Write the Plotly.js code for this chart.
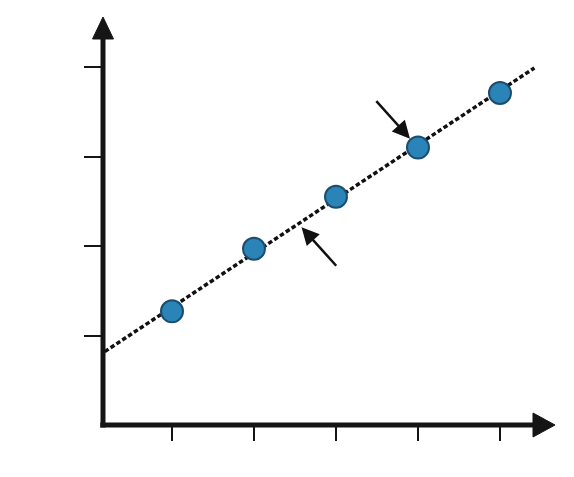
<!DOCTYPE html>
<html>
<head>
<meta charset="utf-8">
<script src="https://cdn.plot.ly/plotly-3.0.1.min.js"></script>
<style>html,body{margin:0;padding:0;background:#fff;}#chart{width:574px;height:477px;}</style>
</head>
<body>
<div id="chart"></div>
<script>
// Data
const pointX = [1, 2, 3, 4, 5];
const pointY = [1.27, 1.97, 2.55, 3.10, 3.71];
const trendX = [0.18, 5.42];
const trendY = [0.82, 3.99];
const xTicks = [1, 2, 3, 4, 5];
const yTicks = [1, 2, 3, 4];
const arrowTipX = [4, 2.58];
const arrowTipY = [3.10, 2.21];
const arrowTailDX = [-43, 36];
const arrowTailDY = [-48, 40];
const arrowStandoff = [12, 0];

const traces = [
  {
    x: trendX, y: trendY, mode: 'lines', type: 'scatter',
    line: {color: '#111', width: 3.5, dash: '4.5px,2.5px'},
    hoverinfo: 'skip', showlegend: false
  },
  {
    x: pointX, y: pointY, mode: 'markers', type: 'scatter',
    marker: {size: 22, color: '#2a84b8', line: {color: '#1b4d6e', width: 2}},
    showlegend: false
  }
];

const annotations = arrowTipX.map((x, i) => ({
  x: x, y: arrowTipY[i], xref: 'x', yref: 'y',
  ax: arrowTailDX[i], ay: arrowTailDY[i],
  showarrow: true, arrowhead: 2, arrowsize: 1.4, arrowwidth: 2.5,
  arrowcolor: '#111', standoff: arrowStandoff[i], text: ''
}));

const shapes = [
  {type: 'line', xref: 'paper', yref: 'paper', x0: 0, x1: 0, y0: -0.006, y1: 0.97,
   line: {color: '#151515', width: 5}},
  {type: 'line', xref: 'paper', yref: 'paper', x0: -0.006, x1: 0.97, y0: 0, y1: 0,
   line: {color: '#151515', width: 5}},
  {type: 'path', xref: 'paper', yref: 'paper', xsizemode: 'pixel', ysizemode: 'pixel',
   xanchor: 0, yanchor: 1, path: 'M0,0 L-10.5,-22 L10.5,-22 Z',
   fillcolor: '#151515', line: {color: '#151515', width: 1}},
  {type: 'path', xref: 'paper', yref: 'paper', xsizemode: 'pixel', ysizemode: 'pixel',
   xanchor: 1, yanchor: 0, path: 'M0,0 L-22,12 L-22,-12 Z',
   fillcolor: '#151515', line: {color: '#151515', width: 1}}
];

const layout = {
  width: 574, height: 477,
  margin: {l: 103, r: 19, t: 17, b: 52, pad: 0},
  paper_bgcolor: '#fff', plot_bgcolor: '#fff',
  xaxis: {
    range: [0.1585, 5.671], showgrid: false, zeroline: false, showline: false,
    tickmode: 'array', tickvals: xTicks, showticklabels: false,
    ticks: 'outside', ticklen: 15, tickwidth: 2, tickcolor: '#151515'
  },
  yaxis: {
    range: [0, 4.559], showgrid: false, zeroline: false, showline: false,
    tickmode: 'array', tickvals: yTicks, showticklabels: false,
    ticks: 'outside', ticklen: 18, tickwidth: 2, tickcolor: '#151515'
  },
  shapes: shapes,
  annotations: annotations,
  showlegend: false
};

Plotly.newPlot('chart', traces, layout, {staticPlot: true, displayModeBar: false});
</script>
</body>
</html>
